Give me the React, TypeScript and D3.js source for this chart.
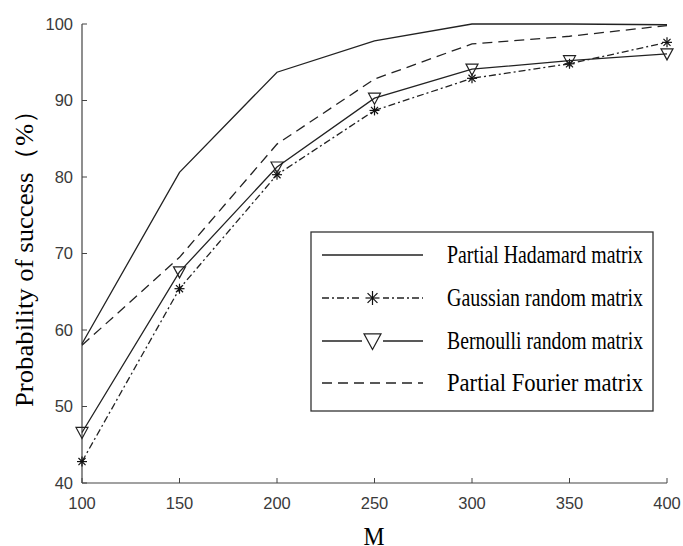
import * as d3 from 'd3'
import React, { useRef, useEffect } from 'react'

// Data
const mValues = [100, 150, 200, 250, 300, 350, 400]
const hadamard = [58.2, 80.6, 93.7, 97.8, 100, 100, 99.9]
const gaussian = [42.8, 65.4, 80.3, 88.7, 92.9, 94.8, 97.6]
const bernoulli = [46.6, 67.6, 81.3, 90.3, 94.1, 95.2, 96.1]
const fourier = [58.0, 69.5, 84.3, 92.8, 97.4, 98.4, 99.8]
const xTicks = [100, 150, 200, 250, 300, 350, 400]
const yTicks = [40, 50, 60, 70, 80, 90, 100]
const seriesNames = [
  'Partial Hadamard matrix',
  'Gaussian random matrix',
  'Bernoulli random matrix',
  'Partial Fourier matrix',
]

const App = () => {
  const ref = useRef<SVGSVGElement | null>(null)

  useEffect(() => {
    const svg = d3.select(ref.current)
    svg.selectAll('*').remove()

    const left = 82
    const right = 667
    const top = 24
    const bottom = 483

    const x = d3.scaleLinear().domain([100, 400]).range([left, right])
    const y = d3.scaleLinear().domain([40, 100]).range([bottom, top])

    const axisColor = '#444'
    const tickText = '#3a3a3a'

    // axes (left + bottom only, inward ticks)
    const g = svg.append('g')
    g.append('line').attr('x1', left).attr('x2', left).attr('y1', top).attr('y2', bottom)
      .attr('stroke', axisColor).attr('stroke-width', 1.2)
    g.append('line').attr('x1', left).attr('x2', right).attr('y1', bottom).attr('y2', bottom)
      .attr('stroke', axisColor).attr('stroke-width', 1.2)

    yTicks.forEach(t => {
      g.append('line').attr('x1', left).attr('x2', left + 5).attr('y1', y(t)).attr('y2', y(t))
        .attr('stroke', axisColor)
      g.append('text')
        .attr('x', left - 9).attr('y', y(t)).attr('dy', '0.36em')
        .attr('text-anchor', 'end')
        .style('font-family', 'Liberation Sans, Arial, sans-serif')
        .style('font-size', '16.5px')
        .attr('fill', tickText)
        .text(t)
    })
    xTicks.forEach(t => {
      g.append('line').attr('x1', x(t)).attr('x2', x(t)).attr('y1', bottom).attr('y2', bottom - 5)
        .attr('stroke', axisColor)
      g.append('text')
        .attr('x', x(t)).attr('y', 509)
        .attr('text-anchor', 'middle')
        .style('font-family', 'Liberation Sans, Arial, sans-serif')
        .style('font-size', '16.5px')
        .attr('fill', tickText)
        .text(t)
    })

    // axis titles
    svg.append('text')
      .attr('transform', `translate(33, 252) rotate(-90)`)
      .attr('text-anchor', 'middle')
      .style('font-family', 'Liberation Serif, Times New Roman, serif')
      .style('font-size', '26px')
      .attr('textLength', 310)
      .attr('lengthAdjust', 'spacingAndGlyphs')
      .text('Probability of success（%）')
    svg.append('text')
      .attr('x', 374).attr('y', 545)
      .attr('text-anchor', 'middle')
      .style('font-family', 'Liberation Serif, Times New Roman, serif')
      .style('font-size', '26px')
      .attr('textLength', 21)
      .attr('lengthAdjust', 'spacingAndGlyphs')
      .text('M')

    const line = d3.line<number>()
      .x((d, i) => x(mValues[i]))
      .y(d => y(d))

    const styles = [
      { data: hadamard, dash: null, marker: null },
      { data: gaussian, dash: '7,3,2,3', marker: 'star' },
      { data: bernoulli, dash: null, marker: 'tri' },
      { data: fourier, dash: '10,6', marker: null },
    ]

    const drawMarker = (sel, kind, cx, cy, s) => {
      if (kind === 'star') {
        const r = s / 2
        for (let k = 0; k < 4; k++) {
          const a = (k * Math.PI) / 4
          sel.append('line')
            .attr('x1', cx - r * Math.cos(a)).attr('y1', cy - r * Math.sin(a))
            .attr('x2', cx + r * Math.cos(a)).attr('y2', cy + r * Math.sin(a))
            .attr('stroke', '#111').attr('stroke-width', 1.2)
        }
      } else if (kind === 'tri') {
        const w = s / 2
        const h = s * 0.42
        sel.append('path')
          .attr('d', `M${cx - w},${cy - h}L${cx + w},${cy - h}L${cx},${cy + h * 1.2}Z`)
          .attr('fill', 'none')
          .attr('stroke', '#222')
          .attr('stroke-width', 1.2)
      }
    }

    styles.forEach(s => {
      svg.append('path')
        .datum(s.data)
        .attr('d', line)
        .attr('fill', 'none')
        .attr('stroke', '#222')
        .attr('stroke-width', 1.3)
        .attr('stroke-dasharray', s.dash)
      if (s.marker) {
        const mg = svg.append('g')
        s.data.forEach((v, i) => drawMarker(mg, s.marker, x(mValues[i]), y(v), s.marker === 'star' ? 10 : 12))
      }
    })

    // legend
    const lg = svg.append('g')
    lg.append('rect')
      .attr('x', 311).attr('y', 232).attr('width', 342).attr('height', 179)
      .attr('fill', 'white').attr('stroke', '#333').attr('stroke-width', 1.3)
    const rowY = [255, 298, 341, 383]
    styles.forEach((s, i) => {
      lg.append('line')
        .attr('x1', 322).attr('x2', 423).attr('y1', rowY[i]).attr('y2', rowY[i])
        .attr('stroke', '#222').attr('stroke-width', 1.3)
        .attr('stroke-dasharray', s.dash)
      if (s.marker) {
        lg.append('rect').attr('x', 362).attr('y', rowY[i] - 9).attr('width', 21).attr('height', 18).attr('fill', 'white')
        drawMarker(lg, s.marker, 372.5, rowY[i], s.marker === 'star' ? 14 : 17)
      }
      lg.append('text')
        .attr('x', 447).attr('y', rowY[i] + 8)
        .style('font-family', 'Liberation Serif, Times New Roman, serif')
        .style('font-size', '25px')
        .attr('textLength', 196)
        .attr('lengthAdjust', 'spacingAndGlyphs')
        .text(seriesNames[i])
    })
  }, [])

  return (
    <svg ref={ref} width={683} height={546}
      style={{ position: 'absolute', left: 0, top: 0, background: 'white' }} />
  )
}

export default App
